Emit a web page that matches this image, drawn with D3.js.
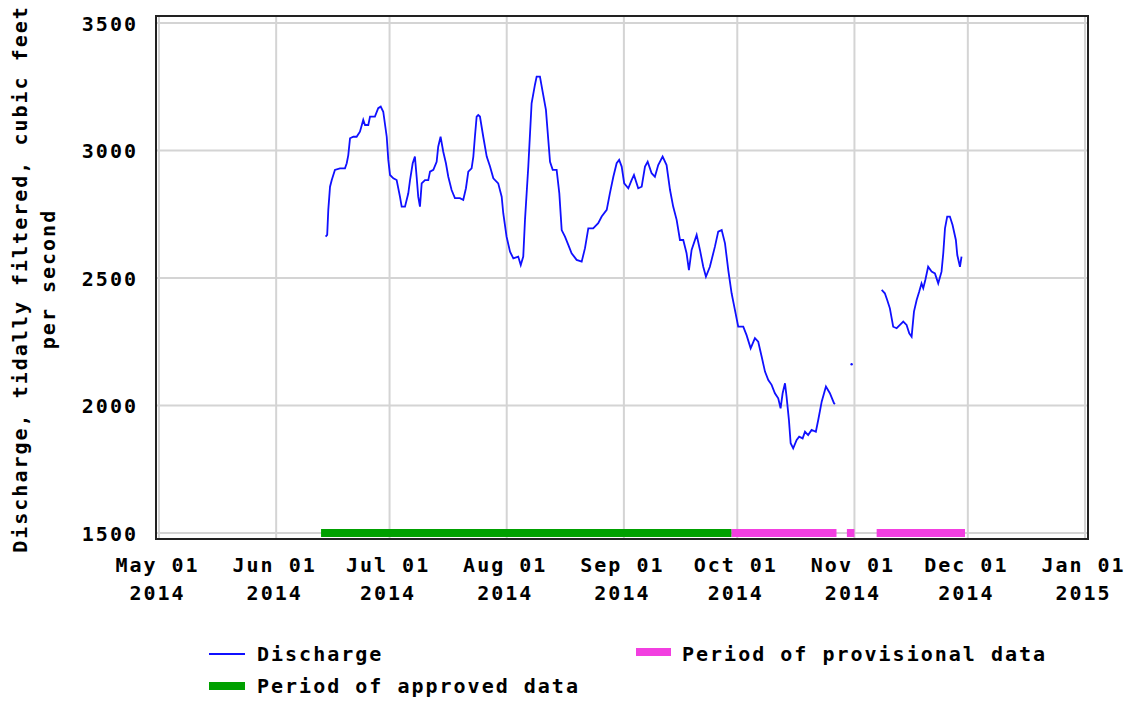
<!DOCTYPE html>
<html>
<head>
<meta charset="utf-8">
<script src="https://d3js.org/d3.v7.min.js"></script>
<style>
  body { margin: 0; background: #fff; }
  text { font-family: "DejaVu Sans Mono", monospace; font-weight: bold; font-size: 20px; letter-spacing: 2px; fill: #000; }
</style>
</head>
<body>
<div id="chart"></div>
<script>
// discharge, tidally filtered (cfs); null = gap in the record
var dischargeTimes = [
  "06-14T02","06-14T12","06-14T19","06-15T06","06-15T17","06-16T13","06-17T21","06-19T05","06-19T16","06-20T02",
  "06-20T13","06-21T10","06-22T07","06-23T04","06-24T01","06-24T12","06-25T09","06-25T20","06-27T03","06-28T00",
  "06-28T16","06-29T08","06-30T06","06-30T16","07-01T03","07-02T00","07-02T21","07-03T18","07-04T05","07-05T02",
  "07-05T23","07-06T10","07-07T03","07-07T17","07-08T04","07-08T14","07-09T01","07-09T12","07-10T09","07-11T06",
  "07-11T17","07-12T14","07-13T11","07-13T21","07-14T12","07-15T05","07-15T22","07-16T13","07-17T10","07-18T07",
  "07-19T15","07-20T12","07-21T05","07-21T20","07-22T17","07-23T04","07-23T14","07-24T01","07-24T11","07-24T22",
  "07-25T19","07-26T17","07-27T14","07-28T11","07-29T18","07-30T16","07-31T02","07-31T23","08-01T21","08-02T18",
  "08-04T01","08-04T17","08-05T09","08-05T20","08-06T17","08-07T14","08-08T11","08-08T22","08-09T19","08-10T12",
  "08-11T09","08-12T00","08-12T11","08-13T04","08-14T05","08-14T22","08-15T13","08-16T10","08-17T07","08-18T04",
  "08-19T12","08-20T20","08-21T17","08-22T14","08-23T21","08-25T05","08-26T03","08-27T11","08-28T07","08-29T05",
  "08-30T02","08-30T18","08-31T10","09-01T02","09-02T04","09-03T01","09-03T16","09-04T19","09-05T17","09-06T14",
  "09-07T07","09-08T08","09-09T05","09-10T02","09-11T06","09-12T07","09-13T05","09-14T01","09-14T23","09-15T20",
  "09-16T17","09-17T14","09-18T05","09-18T22","09-20T06","09-21T03","09-22T00","09-22T17","09-23T18","09-25T02",
  "09-25T23","09-26T21","09-27T18","09-28T15","09-29T12","09-30T09","10-01T06","10-02T14","10-03T11","10-04T13",
  "10-05T16","10-06T13","10-07T11","10-08T08","10-09T05","10-10T02","10-10T23","10-11T20","10-12T11","10-13T00",
  "10-13T15","10-14T01","10-14T16","10-15T03","10-15T19","10-16T17","10-17T09","10-18T07","10-18T22","10-19T18",
  "10-20T16","10-21T19","10-22T10","10-23T08","10-24T11","10-25T12","10-26T14","10-26T20",
  "10-29T00","10-31T06","11-04T00",
  "11-08T05","11-09T01","11-09T16","11-10T09","11-11T06","11-12T04","11-13T01","11-13T22","11-14T19","11-15T12",
  "11-16T03","11-16T18","11-17T11","11-18T03","11-18T18","11-19T05","11-19T18","11-20T12","11-21T10","11-22T07",
  "11-23T04","11-24T01","11-24T12","11-24T23","11-25T13","11-26T06","11-26T23","11-27T20","11-28T05","11-28T22",
  "11-29T08"
];
var dischargeValues = [
  2662,2669,2767,2858,2884,2924,2930,2930,2950,2982,
  3048,3054,3054,3074,3120,3100,3100,3133,3133,3166,
  3172,3152,3054,2963,2904,2891,2884,2819,2780,2780,
  2832,2884,2950,2976,2897,2819,2780,2871,2884,2884,
  2917,2924,2956,3015,3054,2995,2950,2897,2845,2813,
  2813,2806,2852,2917,2930,2976,3054,3133,3139,3133,
  3054,2976,2937,2891,2871,2819,2754,2662,2603,2577,
  2584,2551,2584,2728,2937,3185,3257,3290,3290,3231,
  3159,3041,2956,2924,2924,2832,2688,2662,2630,2597,
  2571,2564,2617,2695,2695,2715,2741,2767,2832,2897,
  2950,2963,2937,2871,2852,2884,2904,2852,2858,2937,
  2956,2911,2897,2943,2976,2943,2845,2780,2728,2649,
  2649,2597,2531,2610,2669,2610,2544,2505,2544,2623,
  2682,2688,2636,2530,2440,2375,2309,2309,2276,2224,
  2264,2250,2191,2133,2100,2081,2048,2028,1989,2048,
  2087,2035,1943,1852,1832,1865,1878,1871,1897,1884,
  1904,1897,1943,2015,2074,2048,2009,2005,
  null,2162,null,
  2453,2440,2414,2381,2309,2303,2316,2329,2316,2283,
  2270,2368,2414,2446,2479,2460,2492,2544,2525,2518,
  2479,2525,2597,2695,2741,2741,2708,2649,2590,2544,
  2584
];
var approvedPeriods = [["06-12T21", "09-29T12"]];
var provisionalPeriods = [["09-29T12", "10-27T06"], ["10-30T00", "11-01T00"], ["11-06T21", "11-30T06"]];
var yTicks = [1500, 2000, 2500, 3000, 3500];
var xStart = "2014-05-01", xEnd = "2015-01-01";
var yTitleLines = ["Discharge, tidally filtered, cubic feet", "per second"];

var width = 1129, height = 702;
var parse = function (s) { return d3.timeParse("%Y-%m-%dT%H")("2014-" + s); };

var x = d3.scaleTime()
    .domain([d3.timeParse("%Y-%m-%d")(xStart), d3.timeParse("%Y-%m-%d")(xEnd)])
    .range([159, 1085]);
var y = d3.scaleLinear().domain([1500, 3500]).range([533, 23]);

var frame = { left: 156, right: 1088, top: 16, bottom: 539 };

var svg = d3.select("#chart").append("svg")
    .attr("width", width)
    .attr("height", height);

// gridlines
svg.append("g")
    .selectAll("line.h")
    .data(yTicks)
    .enter().append("line")
    .attr("x1", frame.left).attr("x2", frame.right)
    .attr("y1", function (d) { return y(d); })
    .attr("y2", function (d) { return y(d); })
    .style("stroke", "#d4d4d4").style("stroke-width", 2);

var monthTicks = x.ticks(d3.timeMonth.every(1));
svg.append("g")
    .selectAll("line.v")
    .data(monthTicks)
    .enter().append("line")
    .attr("x1", function (d) { return x(d); })
    .attr("x2", function (d) { return x(d); })
    .attr("y1", frame.top).attr("y2", frame.bottom)
    .style("stroke", "#d4d4d4").style("stroke-width", 2);

// approval bars along the bottom
function bars(periods, colour) {
    svg.append("g")
        .selectAll("rect")
        .data(periods)
        .enter().append("rect")
        .attr("x", function (d) { return x(parse(d[0])); })
        .attr("width", function (d) { return x(parse(d[1])) - x(parse(d[0])); })
        .attr("y", y(1500) - 4)
        .attr("height", 8)
        .style("fill", colour);
}
bars(approvedPeriods, "#00a000");
bars(provisionalPeriods, "#f23fe0");

// discharge line
var points = dischargeTimes.map(function (t, i) { return { t: parse(t), v: dischargeValues[i] }; });
var line = d3.line()
    .defined(function (d) { return d.v != null; })
    .x(function (d) { return x(d.t); })
    .y(function (d) { return y(d.v); });

svg.append("path")
    .datum(points)
    .attr("d", line)
    .style("fill", "none")
    .style("stroke", "#1010ff")
    .style("stroke-width", 1.8);

// lone readings with gaps on both sides
svg.append("g")
    .selectAll("circle")
    .data(points.filter(function (d, i) {
        return d.v != null && (i === 0 || points[i - 1].v == null) && (i === points.length - 1 || points[i + 1].v == null);
    }))
    .enter().append("circle")
    .attr("cx", function (d) { return x(d.t); })
    .attr("cy", function (d) { return y(d.v); })
    .attr("r", 1.2)
    .style("fill", "#1010ff");

// frame
svg.append("rect")
    .attr("x", frame.left).attr("y", frame.top)
    .attr("width", frame.right - frame.left)
    .attr("height", frame.bottom - frame.top)
    .style("fill", "none")
    .style("stroke", "#222")
    .style("stroke-width", 2);

// y axis labels
var yAxis = svg.append("g")
    .attr("transform", "translate(" + frame.left + ",0)")
    .call(d3.axisLeft(y).tickValues(yTicks).tickSize(0).tickPadding(18).tickFormat(d3.format("d")));
yAxis.select(".domain").remove();
yAxis.selectAll("text")
    .style("font-family", "'DejaVu Sans Mono', monospace")
    .style("font-size", "20px")
    .attr("dy", "0.35em");

// x axis labels, two lines
var xAxis = svg.append("g")
    .attr("transform", "translate(0," + frame.bottom + ")")
    .call(d3.axisBottom(x).tickValues(monthTicks).tickSize(0).tickFormat(""));
xAxis.select(".domain").remove();
xAxis.selectAll(".tick").each(function (d) {
    var t = d3.select(this).select("text")
        .attr("y", 0).attr("dy", null)
        .style("font-family", "'DejaVu Sans Mono', monospace")
        .style("font-size", "20px");
    t.append("tspan").attr("x", -2).attr("y", 33).text(d3.timeFormat("%b %d")(d));
    t.append("tspan").attr("x", -2).attr("y", 61).text(d3.timeFormat("%Y")(d));
});

// y title
svg.append("g")
    .selectAll("text")
    .data(yTitleLines)
    .enter().append("text")
    .attr("transform", function (d, i) { return "translate(" + (27 + i * 28) + ",279) rotate(-90)"; })
    .attr("text-anchor", "middle")
    .text(function (d) { return d; });

// legend
var legend = svg.append("g");
legend.append("line")
    .attr("x1", 209).attr("x2", 245).attr("y1", 654).attr("y2", 654)
    .style("stroke", "#1010ff").style("stroke-width", 1.8);
legend.append("text").attr("x", 257).attr("y", 661).text("Discharge");
legend.append("rect")
    .attr("x", 209).attr("y", 682).attr("width", 36).attr("height", 8)
    .style("fill", "#00a000");
legend.append("text").attr("x", 257).attr("y", 693).text("Period of approved data");
legend.append("rect")
    .attr("x", 636).attr("y", 648).attr("width", 35).attr("height", 8)
    .style("fill", "#f23fe0");
legend.append("text").attr("x", 682).attr("y", 661).text("Period of provisional data");
</script>
</body>
</html>
